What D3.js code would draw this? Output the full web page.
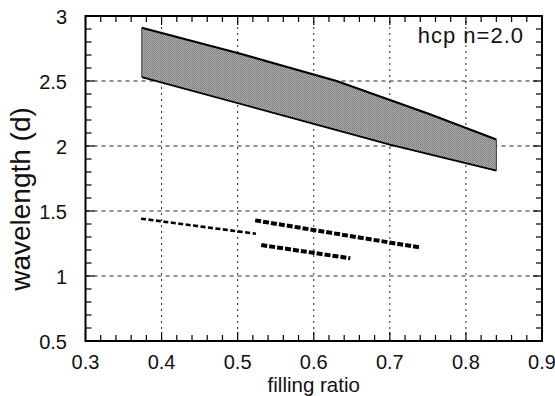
<!DOCTYPE html>
<html>
<head>
<meta charset="utf-8">
<script src="https://cdn.jsdelivr.net/npm/d3@7"></script>
<style>
  body { margin: 0; background: #fff; }
  svg { display: block; }
  text { font-family: "Liberation Sans", Arial, Helvetica, sans-serif; fill: #111; }
</style>
</head>
<body>
<script>
// band limits (upper and lower edge of the shaded region)
const bandUpper = [[0.374, 2.91], [0.5, 2.715], [0.63, 2.5], [0.75, 2.25], [0.84, 2.05]];
const bandLower = [[0.374, 2.53], [0.6, 2.17], [0.7, 2.01], [0.84, 1.81]];

// the three dashed lines
const thinLine = [[0.373, 1.441], [0.524, 1.325]];
const thickLine1 = [[0.523, 1.428], [0.741, 1.218]];
const thickLine2 = [[0.531, 1.238], [0.648, 1.136]];

const xTicks = [0.3, 0.4, 0.5, 0.6, 0.7, 0.8, 0.9];
const yTicks = [0.5, 1, 1.5, 2, 2.5, 3];
const xTickLabels = ["0.3", "0.4", "0.5", "0.6", "0.7", "0.8", "0.9"];
const yTickLabels = ["0.5", "1", "1.5", "2", "2.5", "3"];

const W = 555, H = 396;
const margin = {left: 85.5, right: 13, top: 16, bottom: 55};

const svg = d3.select("body").append("svg")
    .attr("width", W)
    .attr("height", H);

const x = d3.scaleLinear().domain([0.3, 0.9]).range([margin.left, W - margin.right]);
const y = d3.scaleLinear().domain([0.5, 3]).range([H - margin.bottom, margin.top]);

// stipple pattern for the band
const defs = svg.append("defs");
const pat = defs.append("pattern")
    .attr("id", "stip")
    .attr("patternUnits", "userSpaceOnUse")
    .attr("width", 2).attr("height", 2);
pat.append("rect").attr("width", 2).attr("height", 2).attr("fill", "#b0b0b0");
pat.append("rect").attr("width", 1).attr("height", 1).attr("fill", "#747474");
pat.append("rect").attr("x", 1).attr("y", 1).attr("width", 1).attr("height", 1).attr("fill", "#868686");

// grid
const grid = svg.append("g");
grid.selectAll(".vg")
    .data(xTicks.slice(1, -1))
    .enter().append("line")
    .attr("x1", d => x(d)).attr("x2", d => x(d))
    .attr("y1", y(0.5)).attr("y2", y(3))
    .attr("stroke", "#222")
    .attr("stroke-width", 1)
    .attr("stroke-dasharray", "2,4");
grid.selectAll(".hg")
    .data(yTicks.slice(1, -1))
    .enter().append("line")
    .attr("x1", x(0.3)).attr("x2", x(0.9))
    .attr("y1", d => y(d)).attr("y2", d => y(d))
    .attr("stroke", "#222")
    .attr("stroke-width", 1)
    .attr("stroke-dasharray", "4,4");

// band area: upper edge then lower edge reversed
const bandPoly = bandUpper.concat(bandLower.slice().reverse());
svg.append("path")
    .attr("d", "M" + bandPoly.map(p => x(p[0]) + "," + y(p[1])).join("L") + "Z")
    .attr("fill", "url(#stip)")
    .attr("stroke", "none");

const line = d3.line().x(d => x(d[0])).y(d => y(d[1]));

svg.append("path").datum(bandUpper)
    .attr("d", line).attr("fill", "none")
    .attr("stroke", "#000").attr("stroke-width", 2.2);
svg.append("path").datum(bandLower)
    .attr("d", line).attr("fill", "none")
    .attr("stroke", "#000").attr("stroke-width", 1.8);
// end caps
[[bandUpper[0], bandLower[0]], [bandUpper[bandUpper.length - 1], bandLower[bandLower.length - 1]]]
    .forEach(function (pr) {
        svg.append("path").datum(pr)
            .attr("d", line).attr("fill", "none")
            .attr("stroke", "#333").attr("stroke-width", 1);
    });

// dashed lines
svg.append("path").datum(thinLine)
    .attr("d", line).attr("fill", "none")
    .attr("stroke", "#000").attr("stroke-width", 2.6)
    .attr("stroke-dasharray", "5,2.5");
[thickLine1, thickLine2].forEach(function (d) {
    svg.append("path").datum(d)
        .attr("d", line).attr("fill", "none")
        .attr("stroke", "#000").attr("stroke-width", 4)
        .attr("stroke-dasharray", "6,2");
});

// tick marks on all four sides, pointing inward
const ticks = svg.append("g").attr("stroke", "#000").attr("stroke-width", 1.2);
const xMinor = d3.range(0, 31).map(i => 0.3 + i * 0.02);
const yMinor = d3.range(0, 26).map(i => 0.5 + i * 0.1);
xMinor.forEach(function (v, i) {
    const len = (i % 5 === 0) ? 9 : 6;
    ticks.append("line").attr("x1", x(v)).attr("x2", x(v))
        .attr("y1", y(0.5)).attr("y2", y(0.5) - len);
    ticks.append("line").attr("x1", x(v)).attr("x2", x(v))
        .attr("y1", y(3)).attr("y2", y(3) + len);
});
yMinor.forEach(function (v, i) {
    const len = (i % 5 === 0) ? 9 : 6;
    ticks.append("line").attr("y1", y(v)).attr("y2", y(v))
        .attr("x1", x(0.3)).attr("x2", x(0.3) + len);
    ticks.append("line").attr("y1", y(v)).attr("y2", y(v))
        .attr("x1", x(0.9)).attr("x2", x(0.9) - len);
});

// frame
svg.append("rect")
    .attr("x", x(0.3)).attr("y", y(3))
    .attr("width", x(0.9) - x(0.3)).attr("height", y(0.5) - y(3))
    .attr("fill", "none").attr("stroke", "#000").attr("stroke-width", 2);

// tick labels
svg.selectAll(".xl")
    .data(xTicks)
    .enter().append("text")
    .attr("x", d => x(d))
    .attr("y", y(0.5) + 28)
    .attr("text-anchor", "middle")
    .attr("font-size", 20)
    .text((d, i) => xTickLabels[i]);
svg.selectAll(".yl")
    .data(yTicks)
    .enter().append("text")
    .attr("x", x(0.3) - 18.5)
    .attr("y", d => y(d) + 7.5)
    .attr("text-anchor", "end")
    .attr("font-size", 20)
    .text((d, i) => yTickLabels[i]);

// axis titles
svg.append("text")
    .attr("x", (x(0.3) + x(0.9)) / 2)
    .attr("y", 391.5)
    .attr("text-anchor", "middle")
    .attr("font-size", 20.5)
    .text("filling ratio");
svg.append("text")
    .attr("transform", "translate(30,199) rotate(-90)")
    .attr("text-anchor", "middle")
    .attr("font-size", 28)
    .text("wavelength (d)");

// annotation
svg.append("text")
    .attr("x", 524)
    .attr("y", 43)
    .attr("text-anchor", "end")
    .attr("font-size", 22)
    .attr("letter-spacing", 1)
    .text("hcp n=2.0");
</script>
</body>
</html>
